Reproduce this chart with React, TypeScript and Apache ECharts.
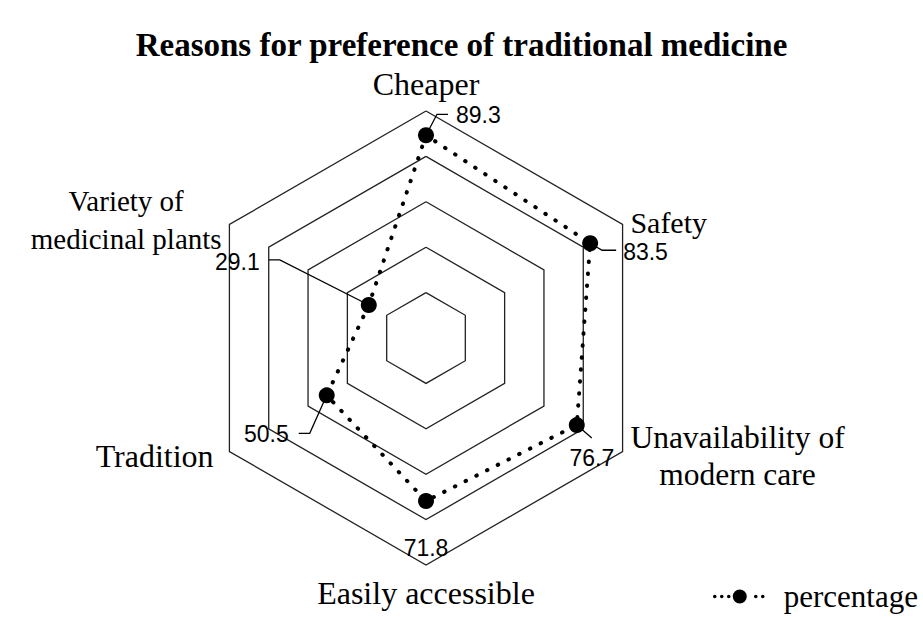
import React, { useEffect, useRef } from 'react';
import * as echarts from 'echarts';

// Categories in clockwise reading order, starting at the top
const categories = [
  'Cheaper',
  'Safety',
  'Unavailability of\nmodern care',
  'Easily accessible',
  'Tradition',
  'Variety of\nmedicinal plants',
];
const values = [89.3, 83.5, 76.7, 71.8, 50.5, 29.1];
const valueLabels = ['89.3', '83.5', '76.7', '71.8', '50.5', '29.1'];
const maxValue = 100;
const splitCount = 5;
const seriesName = 'percentage';
const chartTitle = 'Reasons for preference of traditional medicine';

const SERIF = '"Liberation Serif", "Times New Roman", serif';
const SANS = '"Liberation Sans", Arial, sans-serif';

// leader-line / label offsets relative to each data point (style only)
const leaderStyles: { line: number[][] | null; text: number[]; align: string }[] = [
  { line: [[0, 0], [11, -21], [22, -21]], text: [30, -20], align: 'left' },
  { line: [[0, 0], [12, 7], [26, 7]], text: [33, 9], align: 'left' },
  { line: [[0, 0], [15, 13]], text: [15, 33], align: 'center' },
  { line: null, text: [0, 47], align: 'center' },
  { line: [[0, 0], [-17, 38], [-28, 38]], text: [-38, 39], align: 'right' },
  { line: [[0, 0], [-89, -45], [-100, -45]], text: [-109, -43], align: 'right' },
];

function circ(cx: number, cy: number, r: number) {
  return `M${cx - r},${cy}a${r},${r} 0 1,0 ${2 * r},0a${r},${r} 0 1,0 ${-2 * r},0Z`;
}
const legendIcon =
  'path://' +
  [circ(2, 7, 1.8), circ(9, 7, 1.8), circ(16, 7, 1.8), circ(27, 7, 7), circ(43, 7, 1.8), circ(50, 7, 1.8)].join('');

export default function App() {
  const ref = useRef<HTMLDivElement>(null);
  useEffect(() => {
    const chart = echarts.init(ref.current!, null, { renderer: 'svg' });
    const n = categories.length;
    // ECharts lays radar indicators out counter-clockwise; map to clockwise order
    const order = [0, ...Array.from({ length: n - 1 }, (_, i) => n - 1 - i)];

    const richBase = { fontSize: 32, fontFamily: SERIF, color: '#000', lineHeight: 37 };
    chart.setOption({
      animation: false,
      backgroundColor: '#fff',
      title: {
        text: chartTitle,
        left: 'center',
        top: 23,
        textStyle: { fontFamily: SERIF, fontWeight: 'bold', fontSize: 33, color: '#000' },
      },
      legend: {
        data: [seriesName],
        right: 0,
        bottom: 2,
        icon: legendIcon,
        itemWidth: 52,
        itemHeight: 14,
        itemStyle: { color: '#000', borderWidth: 0 },
        textStyle: { fontFamily: SERIF, fontSize: 31, color: '#000', padding: [0, 0, 0, 14] },
      },
      radar: {
        center: [426, 338],
        radius: 227,
        startAngle: 90,
        splitNumber: splitCount,
        shape: 'polygon',
        nameGap: 9,
        indicator: order.map((i) => ({ name: categories[i], min: 0, max: maxValue })),
        axisName: {
          color: '#000',
          fontFamily: SERIF,
          fontSize: 32,
          lineHeight: 37,
          formatter: (name: string) => {
            if (name === 'Tradition') return `{t|${name}}`;
            if (name === 'Safety') return `{s|${name}}`;
            if (name.indexOf('Variety') === 0)
              return name
                .split('\n')
                .map((l) => `{v|${l}}`)
                .join('\n');
            if (name.indexOf('\n') >= 0)
              return name
                .split('\n')
                .map((l) => `{c|${l}}`)
                .join('\n');
            return name;
          },
          rich: {
            c: { ...richBase, fontSize: 31.5, align: 'center' },
            v: { ...richBase, fontSize: 29, lineHeight: 38, align: 'center' },
            s: { ...richBase, fontSize: 30, lineHeight: 32, padding: [4, 0, 0, 0] },
            t: { ...richBase, padding: [0, 8, 0, 0] },
          },
        },
        splitLine: { lineStyle: { color: '#222', width: 1.3 } },
        splitArea: { show: false },
        axisLine: { show: false },
        axisTick: { show: false },
        axisLabel: { show: false },
      },
      series: [
        {
          type: 'radar',
          name: seriesName,
          symbol: 'circle',
          symbolSize: 16,
          itemStyle: { color: '#000' },
          lineStyle: { color: '#000', width: 4, type: [0.5, 11.5], cap: 'round' },
          label: { show: false },
          data: [{ name: seriesName, value: order.map((i) => values[i]) }],
        },
      ],
    });

    // Place value labels with leader lines using the radar coordinate system
    const radarModel: any = (chart as any).getModel().getComponent('radar');
    const cs = radarModel && radarModel.coordinateSystem;
    if (cs) {
      const graphics: any[] = [];
      categories.forEach((_, ci) => {
        const axisIdx = order.indexOf(ci);
        const p = cs.dataToPoint(values[ci], axisIdx);
        const st = leaderStyles[ci];
        if (st.line) {
          graphics.push({
            type: 'polyline',
            z: 10,
            shape: { points: st.line.map((o) => [p[0] + o[0], p[1] + o[1]]) },
            style: { stroke: '#000', lineWidth: 1.3, fill: null },
          });
        }
        graphics.push({
          type: 'text',
          z: 11,
          x: p[0] + st.text[0],
          y: p[1] + st.text[1],
          style: {
            text: valueLabels[ci],
            fontSize: 23,
            fontFamily: SANS,
            fill: '#000',
            align: st.align,
            verticalAlign: 'middle',
          },
        });
      });
      chart.setOption({ graphic: graphics });
    }

    return () => chart.dispose();
  }, []);
  return (
    <div
      ref={ref}
      style={{ position: 'fixed', left: 0, top: 0, width: 923, height: 619, background: '#fff' }}
    />
  );
}
